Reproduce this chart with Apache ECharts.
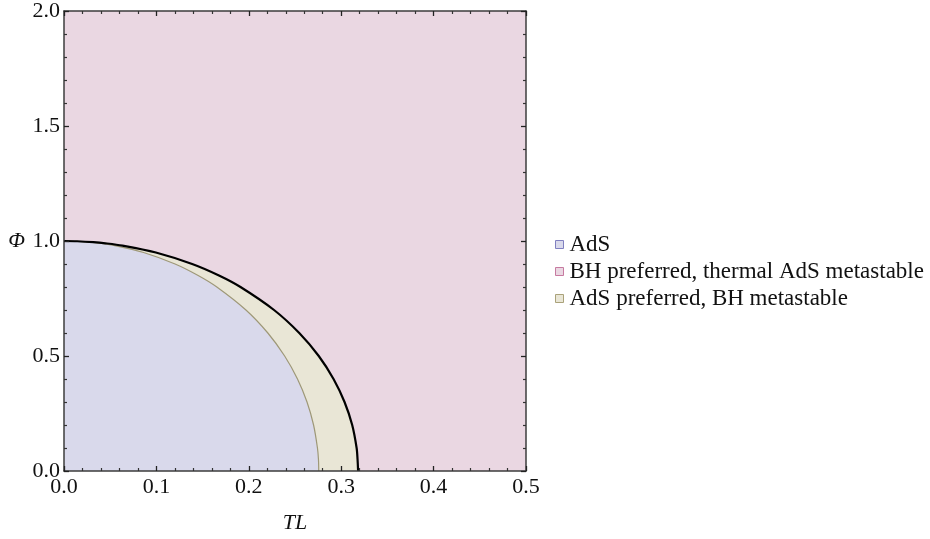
<!DOCTYPE html>
<html>
<head>
<meta charset="utf-8">
<script src="https://cdn.jsdelivr.net/npm/echarts@6/dist/echarts.min.js"></script>
<style>
  html, body { margin: 0; padding: 0; background: #ffffff; }
  #chart { width: 930px; height: 539px; }
</style>
</head>
<body>
<div id="chart"></div>
<script>
// Phase boundaries as [TL, Φ] pairs, ordered by increasing TL.
// Hawking–Page line (black): AdS below/left, BH preferred above/right.
const hawkingPage = [
  [0.0000, 1.000], [0.0142, 0.999], [0.0318, 0.995], [0.0449, 0.990],
  [0.0633, 0.980], [0.0994, 0.950], [0.1387, 0.900], [0.1677, 0.850],
  [0.1910, 0.800], [0.2273, 0.700], [0.2546, 0.600], [0.2757, 0.500],
  [0.2917, 0.400], [0.3036, 0.300], [0.3119, 0.200], [0.3167, 0.100],
  [0.3177, 0.050], [0.3183, 0.000]
];
// Minimum black-hole temperature line (olive): only thermal AdS exists below it.
const minTemperature = [
  [0.0000, 1.000], [0.0123, 0.999], [0.0275, 0.995], [0.0389, 0.990],
  [0.0549, 0.980], [0.0861, 0.950], [0.1202, 0.900], [0.1452, 0.850],
  [0.1654, 0.800], [0.1969, 0.700], [0.2206, 0.600], [0.2388, 0.500],
  [0.2527, 0.400], [0.2630, 0.300], [0.2701, 0.200], [0.2743, 0.100],
  [0.2754, 0.050], [0.2757, 0.000]
];
// Whole plotted domain, filled as the black-hole-preferred phase.
const fullDomain = [[0.0, 2.0], [0.5, 2.0]];

const phaseNames = [
  'AdS',
  'BH preferred, thermal AdS metastable',
  'AdS preferred, BH metastable'
];

const xTicks = { min: 0, max: 0.5, step: 0.1 };
const yTicks = { min: 0, max: 2.0, step: 0.5 };

const serif = '"Liberation Serif", "DejaVu Serif", serif';
const pink = '#ead7e2', pinkEdge = '#c77aa0';
const blue = '#d9d9eb', blueEdge = '#8080c0';
const cream = '#e9e6d6', creamEdge = '#aaa27a';
const frame = '#3c3c3c';

const chart = echarts.init(document.getElementById('chart'), null, { renderer: 'canvas' });

function frameAxis(extra) {
  return Object.assign({
    type: 'value',
    z: 10,
    axisLine: { show: true, onZero: false, lineStyle: { color: frame, width: 1.5 } },
    axisTick: { show: true, inside: true, length: 5, lineStyle: { color: '#222', width: 1.3 } },
    minorTick: { show: true, splitNumber: 5, length: 3, lineStyle: { color: '#333', width: 1.2 } },
    splitLine: { show: false },
    minorSplitLine: { show: false }
  }, extra);
}

chart.setOption({
  animation: false,
  backgroundColor: '#ffffff',
  grid: {
    left: 64, top: 10, width: 462, height: 461,
    show: true, backgroundColor: pink, borderWidth: 0
  },
  legend: {
    orient: 'vertical',
    left: 550, top: 228,
    itemWidth: 8, itemHeight: 8, itemGap: 4,
    icon: 'rect',
    textStyle: { fontFamily: serif, fontSize: 23, color: '#111', padding: [0, 0, 0, 1] },
    data: [
      { name: phaseNames[0], itemStyle: { color: blue, borderColor: blueEdge, borderWidth: 1 } },
      { name: phaseNames[1], itemStyle: { color: pink, borderColor: pinkEdge, borderWidth: 1 } },
      { name: phaseNames[2], itemStyle: { color: cream, borderColor: creamEdge, borderWidth: 1 } }
    ]
  },
  xAxis: [
    frameAxis({
      position: 'bottom',
      min: xTicks.min, max: xTicks.max, interval: xTicks.step,
      name: 'TL', nameLocation: 'middle', nameGap: 41,
      nameTextStyle: { fontFamily: serif, fontStyle: 'italic', fontSize: 22, color: '#111' },
      axisLabel: {
        show: true, margin: 5, fontFamily: serif, fontSize: 22, color: '#111',
        formatter: v => v.toFixed(1)
      }
    }),
    frameAxis({
      position: 'top',
      min: xTicks.min, max: xTicks.max, interval: xTicks.step,
      axisLabel: { show: false }
    })
  ],
  yAxis: [
    frameAxis({
      position: 'left',
      min: yTicks.min, max: yTicks.max, interval: yTicks.step,
      name: 'Φ', nameLocation: 'middle', nameGap: 39, nameRotate: 0,
      nameTextStyle: { fontFamily: serif, fontStyle: 'italic', fontSize: 22, color: '#111' },
      axisLabel: {
        show: true, margin: 4, fontFamily: serif, fontSize: 22, color: '#111',
        formatter: v => v.toFixed(1)
      }
    }),
    frameAxis({
      position: 'right',
      min: yTicks.min, max: yTicks.max, interval: yTicks.step,
      axisLabel: { show: false }
    })
  ],
  series: [
    {
      name: phaseNames[1], type: 'line', data: fullDomain,
      symbol: 'none', lineStyle: { width: 0 },
      areaStyle: { color: pink, opacity: 1 }, z: 1, silent: true
    },
    {
      name: phaseNames[2], type: 'line', data: hawkingPage,
      symbol: 'none', smooth: 0.3, lineStyle: { width: 0 },
      areaStyle: { color: cream, opacity: 1 }, z: 2, silent: true
    },
    {
      name: phaseNames[0], type: 'line', data: minTemperature,
      symbol: 'none', smooth: 0.3,
      lineStyle: { color: '#9e9878', width: 1.2 },
      areaStyle: { color: blue, opacity: 1 }, z: 3, silent: true
    },
    {
      name: 'Hawking–Page', type: 'line', data: hawkingPage,
      symbol: 'none', smooth: 0.3,
      lineStyle: { color: '#000', width: 2.2 }, z: 4, silent: true
    }
  ]
});
</script>
</body>
</html>
